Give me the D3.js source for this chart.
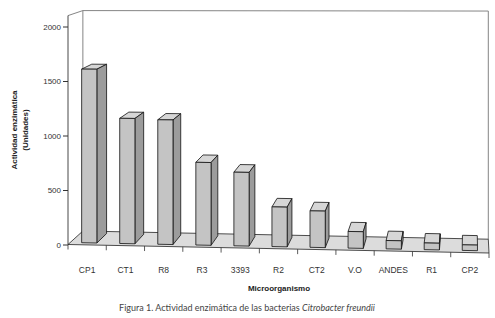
<!DOCTYPE html>
<meta charset="utf-8">
<title>Actividad enzimática</title>
<script src="https://d3js.org/d3.v7.min.js"></script>
<style>
  body { margin: 0; background: #fff; }
  text { font-family: "Liberation Sans", Arial, sans-serif; }
</style>
<div id="my_dataviz"></div>
<script>
var organisms = ["CP1", "CT1", "R8", "R3", "3393", "R2", "CT2", "V.O", "ANDES", "R1", "CP2"];
var activity = [1600, 1150, 1140, 755, 670, 360, 330, 150, 75, 60, 50];
var yTicks = [0, 500, 1000, 1500, 2000];
var yTitle = ["Actividad enzimática", "(Unidades)"];
var xTitle = "Microorganismo";

var width = 495, height = 318;

var svg = d3.select("#my_dataviz")
  .append("svg")
    .attr("width", width)
    .attr("height", height);

// front plane of the 3d box
var x = d3.scaleBand().domain(organisms).range([68, 489]);
var y = d3.scaleLinear().domain([0, 2000]).range([0, 218]);
var yTop = 2100;
var bw = x.bandwidth();

// the floor front edge slopes down to the right, heights grow a bit to the right
function base(px) { return 244.5 + 0.0202 * (px - 68); }
function stretch(px) { return 1 + 0.035 * (px - 68) / 421; }

// depth goes toward a vanishing point (t = 0 front, t = 1 back wall)
var vp = [470, -120], backScale = 0.963;
function proj(px, v, t) {
  var fy = base(px) - y(v) * stretch(px);
  var s = 1 - t * (1 - backScale);
  return [vp[0] + (px - vp[0]) * s, vp[1] + (fy - vp[1]) * s];
}
var line = d3.line();
var x0 = x.range()[0], x1 = x.range()[1];

// back wall
svg.append("path")
  .attr("d", line([proj(x0, 0, 1), proj(x0, yTop, 1), proj(x1, yTop, 1), proj(x1, 0, 1)]))
  .style("fill", "none")
  .style("stroke", "#777")
  .style("stroke-width", 0.9);

// left wall top edge
svg.append("path")
  .attr("d", line([proj(x0, yTop, 0), proj(x0, yTop, 1)]))
  .style("stroke", "#777")
  .style("stroke-width", 0.9);

// floor
svg.append("path")
  .attr("d", line([proj(x0, 0, 0), proj(x1, 0, 0), proj(x1, 0, 1), proj(x0, 0, 1)]) + "Z")
  .style("fill", "#dcdcdc")
  .style("stroke", "#222")
  .style("stroke-width", 0.8);

// value axis line
svg.append("path")
  .attr("d", line([proj(x0, 0, 0), proj(x0, yTop, 0)]))
  .style("stroke", "#333")
  .style("stroke-width", 0.9);

var yAxisScale = d3.scaleLinear().domain([0, 2000]).range([base(x0), base(x0) - y(2000)]);
var yAxis = svg.append("g")
  .attr("transform", "translate(" + x0 + ",0)")
  .call(d3.axisLeft(yAxisScale).tickValues(yTicks).tickSize(5).tickPadding(2).tickFormat(d3.format("d")));
yAxis.select(".domain").remove();
yAxis.selectAll("line").style("stroke", "#333");
yAxis.selectAll("text")
  .style("font-family", "'Liberation Sans', Arial, sans-serif")
  .style("font-size", "8px")
  .style("fill", "#333");

// category ticks under the floor edge
var edges = organisms.map(function(d) { return x(d); }).concat([x1]);
svg.selectAll("catTick")
  .data(edges).enter()
  .append("line")
    .attr("x1", function(d) { return d; })
    .attr("x2", function(d) { return d; })
    .attr("y1", function(d) { return base(d); })
    .attr("y2", function(d) { return base(d) + 5; })
    .style("stroke", "#333")
    .style("stroke-width", 0.8);

svg.selectAll("catLabel")
  .data(organisms).enter()
  .append("text")
    .attr("x", function(d) { return x(d) + bw / 2; })
    .attr("y", 272.5)
    .attr("text-anchor", "middle")
    .style("font-size", "8.5px")
    .style("fill", "#333")
    .text(function(d) { return d; });

// bars
var t0 = 0.15, t1 = 0.85;
var bars = svg.selectAll("bar")
  .data(organisms).enter()
  .append("g");

bars.each(function(d, i) {
  var g = d3.select(this);
  var a = x(d) + bw * 0.3, b = x(d) + bw * 0.7, v = activity[i];
  var faces = [];
  faces.push({ pts: [proj(a, v, t0), proj(a, v, t1), proj(b, v, t1), proj(b, v, t0)], fill: "#d6d6d6" });
  if (b < vp[0]) faces.push({ pts: [proj(b, 0, t0), proj(b, v, t0), proj(b, v, t1), proj(b, 0, t1)], fill: "#9c9c9c" });
  if (a > vp[0]) faces.push({ pts: [proj(a, 0, t0), proj(a, v, t0), proj(a, v, t1), proj(a, 0, t1)], fill: "#9c9c9c" });
  faces.push({ pts: [proj(a, 0, t0), proj(a, v, t0), proj(b, v, t0), proj(b, 0, t0)], fill: "#c4c4c4" });
  faces.forEach(function(f) {
    g.append("path")
      .attr("d", line(f.pts) + "Z")
      .style("fill", f.fill)
      .style("stroke", "#111")
      .style("stroke-width", 0.8)
      .style("stroke-linejoin", "round");
  });
});

// axis titles
svg.append("text")
  .attr("x", 279)
  .attr("y", 291)
  .attr("text-anchor", "middle")
  .style("font-size", "8px")
  .style("font-weight", "bold")
  .style("fill", "#222")
  .text(xTitle);

svg.selectAll("yTitle")
  .data(yTitle).enter()
  .append("text")
    .attr("transform", function(d, i) { return "translate(" + (17 + i * 11) + ",130) rotate(-90)"; })
    .attr("text-anchor", "middle")
    .style("font-size", "8px")
    .style("font-weight", "bold")
    .style("fill", "#222")
    .text(function(d) { return d; });

// caption
var cap = svg.append("text")
  .attr("x", 247)
  .attr("y", 311)
  .attr("text-anchor", "middle")
  .style("font-family", "Lato, 'Noto Sans', sans-serif")
  .style("font-size", "9px")
  .style("fill", "#444");
cap.append("tspan").text("Figura 1. Actividad enzimática de las bacterias ");
cap.append("tspan").style("font-style", "italic").text("Citrobacter freundii");
</script>
